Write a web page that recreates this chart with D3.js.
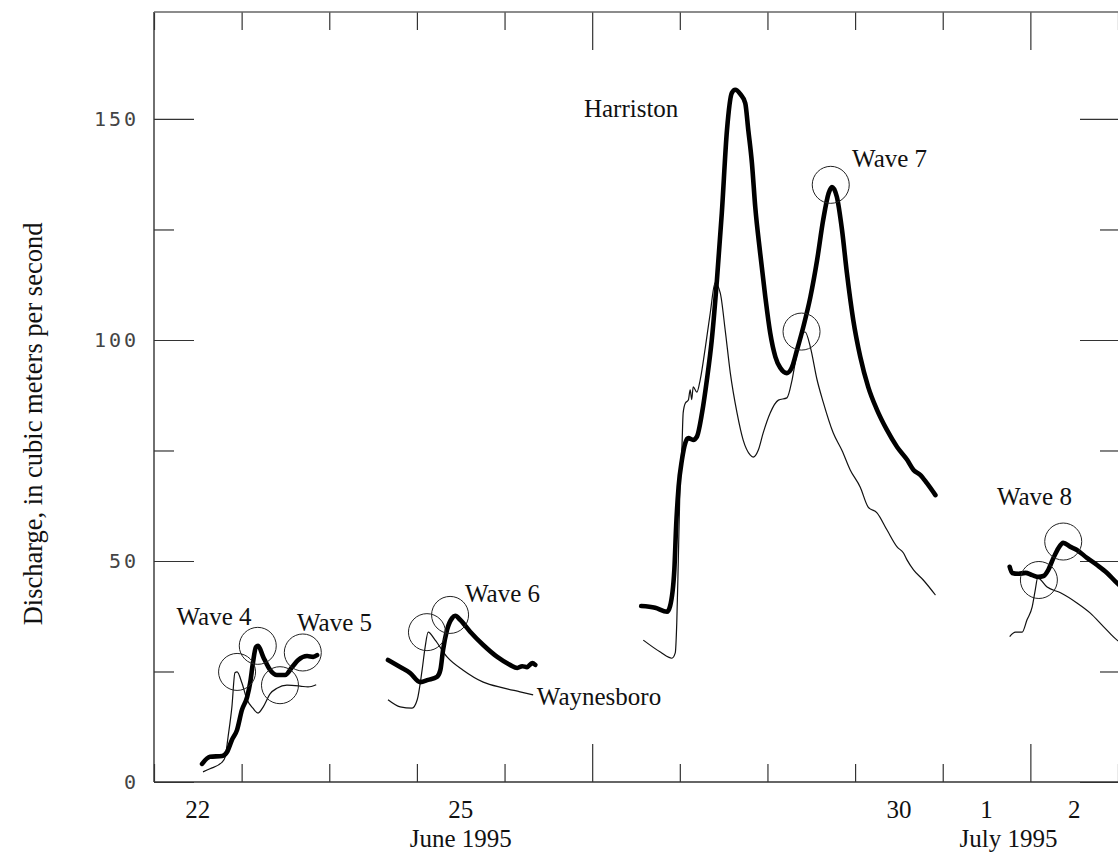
<!DOCTYPE html>
<html>
<head>
<meta charset="utf-8">
<script src="https://cdn.jsdelivr.net/npm/d3@7"></script>
<style>
  body { margin: 0; background: #fff; }
  svg { display: block; }
  .serif { font-family: 'Liberation Serif', 'Times New Roman', serif; font-size: 25px; fill: #111; }
  .axis path.domain { display: none; }
  .axis line { stroke: #333; stroke-width: 1.2; }
  .ylab text { font-family: 'DejaVu Sans Mono', monospace; font-size: 20px; letter-spacing: 3px; fill: #444; }
</style>
</head>
<body>
<script>
const parseTime = d3.timeParse('%Y-%m-%d %H:%M')
const when = s => parseTime('1995-' + s)

// Harriston gage (thick line); null marks a gap between recorded pieces
const harristonTimes = [
  '06-22 13:10','06-22 15:20','06-22 18:40','06-22 20:00','06-22 21:20','06-22 22:45','06-23 00:05','06-23 01:30',
  '06-23 02:20','06-23 03:05','06-23 03:55','06-23 04:30','06-23 05:55','06-23 07:50','06-23 09:40','06-23 11:55',
  '06-23 13:50','06-23 15:30','06-23 17:55','06-23 19:35','06-23 20:40',
  '06-24 00:00',
  '06-24 16:05','06-24 19:25','06-24 22:05','06-25 00:55','06-25 03:05','06-25 05:30','06-25 06:25','06-25 07:10',
  '06-25 08:15','06-25 09:40','06-25 10:30','06-25 11:50','06-25 14:35','06-25 18:10','06-25 22:00','06-26 01:30',
  '06-26 03:30','06-26 04:50','06-26 06:10','06-26 07:35','06-26 08:25',
  '06-27 00:00',
  '06-27 13:25','06-27 17:15','06-27 20:30','06-27 21:20','06-27 22:30','06-27 23:00','06-27 23:40','06-28 00:35',
  '06-28 01:30','06-28 02:20','06-28 03:40','06-28 04:40','06-28 06:05','06-28 07:25','06-28 08:45','06-28 10:10',
  '06-28 11:30','06-28 12:55','06-28 14:15','06-28 15:10','06-28 16:35','06-28 17:55','06-28 18:45','06-28 19:45',
  '06-28 20:40','06-28 22:00','06-28 23:25','06-29 00:45','06-29 02:10','06-29 03:30','06-29 05:20','06-29 06:45',
  '06-29 08:05','06-29 09:50','06-29 11:45','06-29 13:35','06-29 15:15','06-29 16:45','06-29 17:40','06-29 19:00',
  '06-29 20:25','06-29 21:45','06-29 23:30','06-30 01:25','06-30 03:35','06-30 06:00','06-30 08:45','06-30 11:30',
  '06-30 14:15','06-30 16:00','06-30 17:50','06-30 19:40','06-30 22:00',
  '07-01 00:00',
  '07-01 18:20','07-01 19:00','07-01 20:45','07-01 22:40','07-02 00:30','07-02 02:15','07-02 03:35','07-02 04:55',
  '07-02 06:20','07-02 07:40','07-02 09:00','07-02 11:00','07-02 12:45','07-02 15:30','07-02 18:15','07-02 21:00',
  '07-02 23:45','07-03 02:00'
]
const harristonFlow = [
  4.1, 5.7, 5.9, 6.8, 9.5, 11.8, 16.3, 19.2,
  22.4, 26.9, 30.5, 30.8, 28.3, 25.3, 24.2, 24.2,
  26.0, 27.6, 28.5, 28.3, 28.7,
  null,
  27.6, 26.0, 24.7, 22.6, 23.1, 23.8, 25.3, 29.9,
  34.4, 37.1, 37.6, 36.7, 34.0, 31.0, 28.3, 26.5,
  25.8, 26.2, 26.0, 26.9, 26.5,
  null,
  39.8, 39.4, 38.5, 39.8, 48.0, 58.0, 66.8, 72.9,
  76.7, 77.8, 77.4, 78.1, 83.5, 91.0, 100.0, 113.6,
  128.7, 147.5, 155.9, 156.6, 155.6, 153.6, 147.5, 140.0,
  130.0, 119.7, 109.7, 101.6, 96.2, 93.7, 92.5, 93.9,
  97.7, 103.0, 109.7, 118.0, 127.1, 133.2, 134.6, 132.4,
  124.9, 115.2, 104.5, 96.2, 89.4, 84.2, 79.6, 75.8,
  72.9, 70.6, 69.5, 67.6, 64.9,
  null,
  48.7, 47.3, 47.1, 47.3, 46.8, 46.4, 46.6, 48.0,
  50.7, 52.9, 54.1, 53.2, 52.5, 50.7, 49.1, 47.3,
  45.0, 43.5
]

// Waynesboro gage (thin line)
const waynesboroTimes = [
  '06-22 13:25','06-22 15:20','06-22 18:40','06-22 19:30','06-22 20:15','06-22 21:20','06-22 22:10','06-22 22:45',
  '06-23 00:05','06-23 01:30','06-23 03:05','06-23 04:30','06-23 05:55','06-23 07:50','06-23 09:40','06-23 12:25',
  '06-23 16:00','06-23 18:10','06-23 20:25',
  '06-24 00:00',
  '06-24 16:05','06-24 19:25','06-24 22:40','06-25 00:05','06-25 01:25','06-25 02:15','06-25 03:05','06-25 05:00',
  '06-25 08:15','06-25 12:40','06-25 18:10','06-25 23:35','06-26 04:15','06-26 07:50',
  '06-27 00:00',
  '06-27 14:00','06-27 18:40','06-27 21:50','06-27 22:45','06-27 23:10','06-27 23:35','06-28 00:05','06-28 00:35',
  '06-28 00:55','06-28 01:30','06-28 02:20','06-28 02:50','06-28 03:15','06-28 03:40','06-28 04:40','06-28 05:35',
  '06-28 07:00','06-28 08:20','06-28 09:40','06-28 11:05','06-28 12:25','06-28 13:50','06-28 15:40','06-28 17:20',
  '06-28 19:15','06-28 20:05','06-28 21:30','06-28 22:50','06-29 00:45','06-29 03:00','06-29 05:20','06-29 06:45',
  '06-29 08:05','06-29 09:25','06-29 10:20','06-29 11:45','06-29 13:35','06-29 15:15','06-29 18:00','06-29 20:25',
  '06-29 22:40','06-30 01:25','06-30 03:35','06-30 06:00','06-30 08:45','06-30 11:30','06-30 13:15','06-30 14:15',
  '06-30 16:00','06-30 18:40','06-30 22:00',
  '07-01 00:00',
  '07-01 18:20','07-01 19:55','07-01 21:45','07-01 23:05','07-02 00:30','07-02 01:20','07-02 02:00','07-02 04:35',
  '07-02 08:15','07-02 12:45','07-02 16:25','07-02 20:05','07-02 23:45','07-03 02:00'
]
const waynesboroFlow = [
  2.3, 3.0, 4.5, 5.7, 10.0, 17.0, 24.7, 24.9,
  22.4, 18.6, 16.7, 15.6, 17.0, 20.0, 21.2, 21.9,
  21.7, 21.5, 22.0,
  null,
  18.6, 17.0, 16.7, 18.6, 25.3, 30.5, 33.9, 32.1,
  28.3, 25.3, 22.6, 21.3, 20.4, 19.7,
  null,
  32.1, 29.4, 28.0, 29.2, 36.0, 50.0, 68.0, 75.8,
  83.5, 85.7, 86.4, 88.7, 86.5, 89.4, 88.2, 91.0,
  98.4, 106.1, 112.9, 110.6, 102.3, 92.5, 83.5, 77.4,
  74.0, 73.5, 75.1, 79.0, 83.5, 86.4, 86.9, 91.0,
  97.1, 101.6, 101.8, 98.4, 91.0, 86.0, 79.0, 75.0,
  70.6, 66.7, 62.2, 60.9, 57.0, 53.2, 51.8, 50.2,
  48.0, 45.7, 42.3,
  null,
  32.9, 33.9, 33.9, 36.7, 39.6, 43.4, 46.2, 44.1,
  42.8, 40.5, 38.2, 35.1, 32.1, 31.0
]

// circled wave crests
const waveTimes = ['06-22 22:45','06-23 04:25','06-23 10:30','06-23 16:45','06-25 02:45','06-25 09:05',
                   '06-29 09:20','06-29 17:20','07-02 02:20','07-02 09:00']
const waveFlow = [24.9, 30.8, 21.9, 29.3, 33.9, 37.8, 101.9, 135.1, 45.7, 54.4]

// annotations, anchored at their left end
const noteText = ['Wave 4', 'Wave 5', 'Wave 6', 'Wave 7', 'Wave 8', 'Harriston', 'Waynesboro']
const noteTimes = ['06-22 06:10', '06-23 15:10', '06-25 13:10', '06-29 23:10', '07-01 14:50', '06-26 21:45', '06-26 08:50']
const noteFlow = [35.5, 34.2, 40.7, 139.1, 62.7, 150.5, 17.4]

// axis labels
const yTitle = 'Discharge, in cubic meters per second'
const yMajorTicks = [0, 50, 100, 150]
const yMinorTicks = [25, 75, 125]
const dayLabelTimes = ['06-22 12:00', '06-25 12:00', '06-30 12:00', '07-01 12:00', '07-02 12:00']
const dayLabels = ['22', '25', '30', '1', '2']
const monthLabelTimes = ['06-25 12:00', '07-01 18:00']
const monthLabels = ['June 1995', 'July 1995']
const longTickDays = ['06-27 00:00', '07-02 00:00']

const width = 1118
const height = 855
const margin = { left: 154, top: 12, right: 0, bottom: 73 }

const x = d3.scaleTime()
  .domain([when('06-22 00:00'), when('07-03 00:00')])
  .range([margin.left, width - margin.right])
const y = d3.scaleLinear()
  .domain([0, 174.2])
  .range([height - margin.bottom, margin.top])

const svg = d3.select('body').append('svg').attr('width', width).attr('height', height)
svg.append('rect').attr('width', width).attr('height', height).attr('fill', '#fff')

const longTick = d => longTickDays.some(s => +when(s) === +d)

// day ticks, pointing inward from bottom and top
const xBottom = d3.axisBottom(x).ticks(d3.timeDay.every(1)).tickSize(-18).tickFormat('')
const xTop = d3.axisTop(x).ticks(d3.timeDay.every(1)).tickSize(-18).tickFormat('')
svg.append('g').attr('class', 'axis').attr('transform', 'translate(0,' + y(0) + ')').call(xBottom)
  .selectAll('.tick line').attr('y2', d => longTick(d) ? -38 : -18)
svg.append('g').attr('class', 'axis').attr('transform', 'translate(0,' + margin.top + ')').call(xTop)
  .selectAll('.tick line').attr('y2', d => longTick(d) ? 38 : 18)

// value ticks on both sides
const yLeft = d3.axisLeft(y).tickValues(yMajorTicks.concat(yMinorTicks)).tickSize(-40).tickPadding(15)
  .tickFormat(d => yMajorTicks.includes(d) ? d : '')
const gy = svg.append('g').attr('class', 'axis ylab').attr('transform', 'translate(' + margin.left + ',0)').call(yLeft)
gy.selectAll('.tick line').attr('x2', d => yMajorTicks.includes(d) ? 40 : 20)

const yRight = d3.axisRight(y).tickValues(yMajorTicks.concat(yMinorTicks)).tickSize(-38).tickFormat('')
svg.append('g').attr('class', 'axis').attr('transform', 'translate(' + (width - margin.right) + ',0)').call(yRight)
  .selectAll('.tick line').attr('x2', d => yMajorTicks.includes(d) ? -38 : -18)

// frame (right edge falls on the page border)
const frame = svg.append('g').attr('stroke', '#333').attr('stroke-width', 1.4)
frame.append('line').attr('x1', x.range()[0]).attr('x2', x.range()[0]).attr('y1', y(0)).attr('y2', margin.top)
frame.append('line').attr('x1', x.range()[0]).attr('x2', x.range()[1]).attr('y1', y(0)).attr('y2', y(0))
frame.append('line').attr('x1', x.range()[0]).attr('x2', x.range()[1]).attr('y1', margin.top).attr('y2', margin.top)
  .attr('stroke', '#666')

// x labels
svg.append('g').selectAll('text').data(dayLabels).join('text')
  .attr('class', 'serif').attr('text-anchor', 'middle')
  .attr('x', (d, i) => x(when(dayLabelTimes[i]))).attr('y', 818)
  .text(d => d)
svg.append('g').selectAll('text').data(monthLabels).join('text')
  .attr('class', 'serif').attr('text-anchor', 'middle')
  .attr('x', (d, i) => x(when(monthLabelTimes[i]))).attr('y', 847)
  .text(d => d)

// y title, centred at about 80 on the value scale
svg.append('text').attr('class', 'serif').attr('text-anchor', 'middle')
  .style('font-size', '26.5px')
  .attr('transform', 'translate(42,' + y(81) + ') rotate(-90)')
  .text(yTitle)

// hydrographs
const toPoints = (times, flows) => times.map((s, i) => ({ t: when(s), v: flows[i] }))
const line = d3.line()
  .defined(d => d.v != null)
  .x(d => x(d.t))
  .y(d => y(d.v))
  .curve(d3.curveMonotoneX)

svg.append('path').attr('d', line(toPoints(waynesboroTimes, waynesboroFlow)))
  .attr('fill', 'none').attr('stroke', '#111').attr('stroke-width', 1.2)
svg.append('path').attr('d', line(toPoints(harristonTimes, harristonFlow)))
  .attr('fill', 'none').attr('stroke', '#000').attr('stroke-width', 4.6)
  .attr('stroke-linejoin', 'round').attr('stroke-linecap', 'round')

svg.append('g').selectAll('circle').data(waveTimes).join('circle')
  .attr('cx', d => x(when(d))).attr('cy', (d, i) => y(waveFlow[i])).attr('r', 18.5)
  .attr('fill', 'none').attr('stroke', '#222').attr('stroke-width', 1)

svg.append('g').selectAll('text').data(noteText).join('text')
  .attr('class', 'serif')
  .attr('x', (d, i) => x(when(noteTimes[i]))).attr('y', (d, i) => y(noteFlow[i]))
  .text(d => d)
</script>
</body>
</html>
